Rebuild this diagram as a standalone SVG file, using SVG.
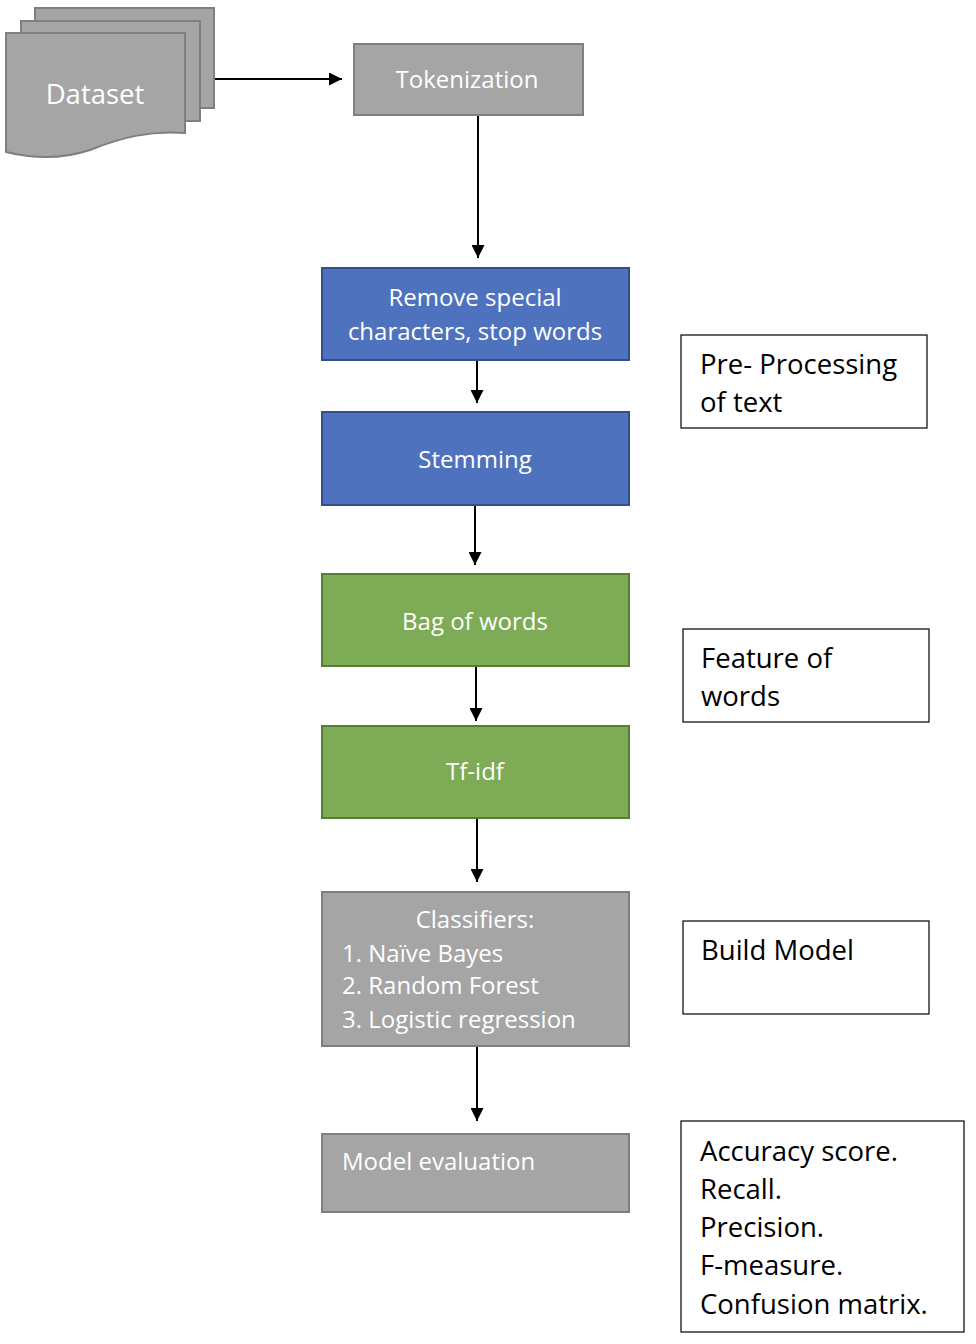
<svg xmlns="http://www.w3.org/2000/svg" width="976" height="1344" viewBox="0 0 976 1344">
<defs>
<marker id="ah" viewBox="0 0 10 10" refX="10" refY="5" markerWidth="7" markerHeight="6.5" orient="auto" markerUnits="strokeWidth"><path d="M0,0 L10,5 L0,10 z" fill="#000"/></marker>
<style>
.gray{fill:#A5A5A5;stroke:#7F7F7F;stroke-width:2}
.blue{fill:#4F72BE;stroke:#2F4F8F;stroke-width:2}
.green{fill:#7EAB55;stroke:#567D34;stroke-width:2}
.note{fill:#fff;stroke:#000;stroke-width:1.2}
.wt{font-family:"Open Sans","Liberation Sans",sans-serif;fill:#fff;font-size:24px}
.bt{font-family:"Open Sans","Liberation Sans",sans-serif;fill:#000;font-size:27.5px}
.conn line{stroke:#000;stroke-width:2;marker-end:url(#ah)}
</style>
</defs>
<rect width="976" height="1344" fill="#fff"/>
<g id="dataset">
<rect x="35" y="8" width="179" height="100" class="gray"/>
<rect x="21" y="21" width="179" height="100" class="gray"/>
<path d="M6,33 H185 V133 C150,130 120,138 90,150 C60,160 30,158 6,152 Z" class="gray"/>
<text x="95" y="104" text-anchor="middle" class="wt" style="font-size:27.5px">Dataset</text>
</g>
<g id="tokenization">
<rect x="354" y="44" width="229" height="71" class="gray"/>
<text x="467" y="88" text-anchor="middle" class="wt">Tokenization</text>
</g>
<g id="remove">
<rect x="322" y="268" width="307" height="92" class="blue"/>
<text x="475" y="306" text-anchor="middle" class="wt">Remove special</text>
<text x="475" y="340" text-anchor="middle" class="wt">characters, stop words</text>
</g>
<g id="stemming">
<rect x="322" y="412" width="307" height="93" class="blue"/>
<text x="475" y="468" text-anchor="middle" class="wt">Stemming</text>
</g>
<g id="bag">
<rect x="322" y="574" width="307" height="92" class="green"/>
<text x="475" y="630" text-anchor="middle" class="wt">Bag of words</text>
</g>
<g id="tfidf">
<rect x="322" y="726" width="307" height="92" class="green"/>
<text x="475" y="780" text-anchor="middle" class="wt">Tf-idf</text>
</g>
<g id="classifiers">
<rect x="322" y="892" width="307" height="154" class="gray"/>
<text x="475" y="928" text-anchor="middle" class="wt">Classifiers:</text>
<text x="342" y="962" class="wt">1. Naïve Bayes</text>
<text x="342" y="994" class="wt">2. Random Forest</text>
<text x="342" y="1028" class="wt">3. Logistic regression</text>
</g>
<g id="evaluation">
<rect x="322" y="1134" width="307" height="78" class="gray"/>
<text x="342" y="1170" class="wt">Model evaluation</text>
</g>
<g id="note-preprocessing">
<rect x="681" y="335" width="246" height="93" class="note"/>
<text x="700" y="374" class="bt">Pre- Processing</text>
<text x="700" y="412" class="bt">of text</text>
</g>
<g id="note-feature">
<rect x="683" y="629" width="246" height="93" class="note"/>
<text x="701" y="668" class="bt">Feature of</text>
<text x="701" y="706" class="bt">words</text>
</g>
<g id="note-build">
<rect x="683" y="921" width="246" height="93" class="note"/>
<text x="701" y="960" class="bt">Build Model</text>
</g>
<g id="note-metrics">
<rect x="681" y="1121" width="283" height="211" class="note"/>
<text x="700" y="1161" class="bt">Accuracy score.</text>
<text x="700" y="1199" class="bt">Recall.</text>
<text x="700" y="1237" class="bt">Precision.</text>
<text x="700" y="1275" class="bt">F-measure.</text>
<text x="700" y="1314" class="bt">Confusion matrix.</text>
</g>
<g id="connectors" class="conn">
<line x1="215" y1="79" x2="342" y2="79"/>
<line x1="478" y1="116" x2="478" y2="258"/>
<line x1="477" y1="361" x2="477" y2="403"/>
<line x1="475" y1="506" x2="475" y2="565"/>
<line x1="476" y1="667" x2="476" y2="721"/>
<line x1="477" y1="819" x2="477" y2="882"/>
<line x1="477" y1="1047" x2="477" y2="1121"/>
</g>
</svg>
